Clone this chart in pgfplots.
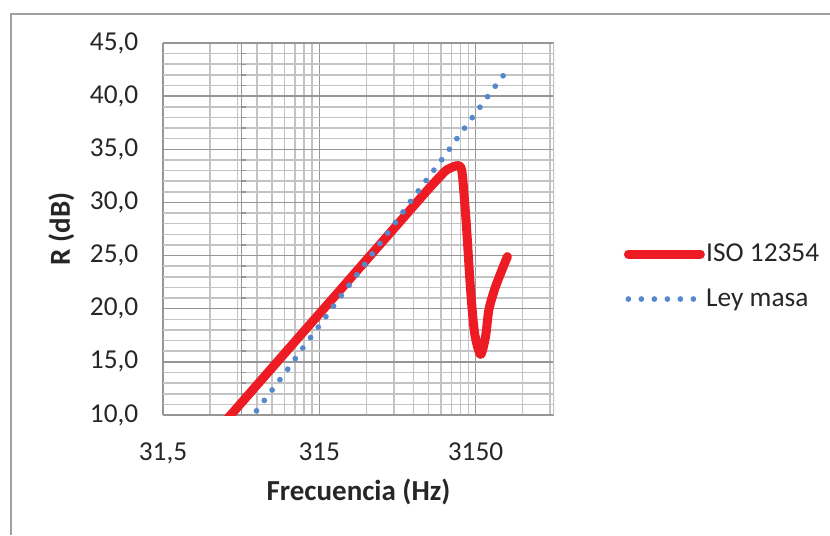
\documentclass[border=0pt]{standalone}
\usepackage{pgfplots}
\pgfplotsset{compat=1.18}
\usepackage{fontspec}
\setmainfont{Carlito}
\definecolor{isored}{RGB}{237,28,36}
\definecolor{masablue}{RGB}{86,136,204}
\definecolor{majgrid}{RGB}{150,150,150}
\definecolor{mingrid}{RGB}{195,195,195}
\definecolor{frame}{RGB}{160,160,160}
\definecolor{txt}{RGB}{38,38,38}
\newcommand{\tickfont}{\fontsize{20.5}{24}\selectfont}
\begin{document}
\begin{tikzpicture}
\path[use as bounding box] (0pt,0pt) rectangle (622.5pt,401.25pt);
\draw[frame, line width=1.5pt] (8.25pt,0pt) -- (8.25pt,390.75pt) -- (622.5pt,390.75pt);
\begin{axis}[
  at={(122.25pt,90pt)}, anchor=south west, scale only axis,
  width=293.25pt, height=279pt,
  xmode=log, xmin=31.5, xmax=10000, ymin=10, ymax=45,
  xtick={31.5,315,3150}, xticklabels={{31,5},{315},{3150}},
  minor xtick={63,94.5,126,157.5,189,220.5,252,283.5,630,945,1260,1575,1890,2205,2520,2835,6300,9450},
  ytick={10,15,20,25,30,35,40,45},
  yticklabels={{10,0},{15,0},{20,0},{25,0},{30,0},{35,0},{40,0},{45,0}},
  minor ytick={11,12,13,14,16,17,18,19,21,22,23,24,26,27,28,29,31,32,33,34,36,37,38,39,41,42,43,44},
  grid=both,
  major grid style={majgrid, line width=1.15pt},
  minor grid style={mingrid, line width=1.15pt},
  axis line style={draw=none},
  major tick length=0pt, minor tick length=0pt,
  ticklabel style={font=\tickfont, text=txt},
  xticklabel style={yshift=-17pt},
  yticklabel style={xshift=-15pt},
  xlabel={\bfseries Frecuencia (Hz)},
  ylabel={\bfseries R (dB)},
  label style={font=\fontsize{21.75}{26}\selectfont, text=txt},
  xlabel style={at={(axis description cs:0.5,-0.207)}, anchor=center},
  ylabel style={at={(axis description cs:-0.26,0.5)}, anchor=center},
  legend style={at={(axis description cs:1.178,0.3723)}, anchor=west,
    draw=none, fill=none, inner sep=0pt, font=\tickfont, text=txt, row sep=17pt,
    nodes={inner sep=1pt}},
  legend cell align=left,
  legend image code/.code={\draw[#1] (0pt,0pt) -- (54pt,0pt);},
]
\draw[majgrid, line width=1.3pt] (rel axis cs:0,0) -- (rel axis cs:1,0);
\draw[mingrid, line width=1.15pt] (rel axis cs:1,0) -- (rel axis cs:1,1);
\draw[majgrid, line width=1.3pt] (axis cs:100,10) -- (axis cs:100,45);
\pgfplotsinvokeforeach{11,12,13,14,16,17,18,19,21,22,23,24,26,27,28,29,31,32,33,34,36,37,38,39,41,42,43,44}{
  \draw[majgrid, line width=1.1pt] (axis cs:100,#1) -- ++(3.75pt,0pt);
}
\pgfplotsinvokeforeach{10,15,20,25,30,35,40,45}{
  \draw[majgrid, line width=1.1pt] (axis cs:100,#1) -- ++(-5pt,0pt);
}
\pgfplotsinvokeforeach{31.5,315,3150}{
  \draw[majgrid, line width=1.1pt] (axis cs:#1,10) -- ++(0pt,-6pt);
}
\addplot[isored, line width=6.75pt, line cap=round, line join=round, smooth, tension=0.45] coordinates {
(63,7.78) (80,9.52) (100,11.15) (125,12.78) (160,14.58) (200,16.21) (250,17.84)
(315,19.52) (400,21.26) (500,22.89) (630,24.58) (800,26.32) (1000,27.95)
(1250,29.58) (1600,31.38) (2000,32.9) (2180,33.25) (2380,33.45) (2525,33.35)
(2600,32.4) (2746,28.0) (2925,21.8) (3104,17.7) (3390,15.7) (3650,17.4)
(3831,19.9) (4230,22.1) (5030,24.9)
};
\addlegendentry{ISO 12354}
\addplot[masablue, line width=4.3pt, line cap=round, dash pattern=on 0pt off 9.75pt] coordinates {
(100,8.4) (125,10.4) (160,12.5) (200,14.4) (250,16.4) (315,18.4) (400,20.5)
(500,22.4) (630,24.4) (800,26.5) (1000,28.4) (1250,30.4) (1600,32.5)
(2000,34.4) (2500,36.4) (3150,38.4) (4000,40.5) (5000,42.4)
};
\addlegendentry{Ley masa}
\end{axis}
\end{tikzpicture}
\end{document}
